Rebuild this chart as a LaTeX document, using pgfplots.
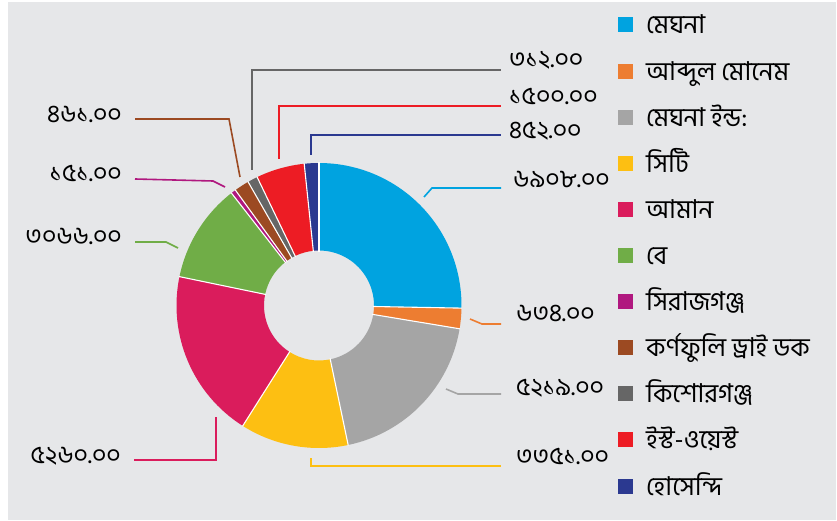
\documentclass[border=0pt]{standalone}
\usepackage{fontspec}
\usepackage{pgfplots}
\usepackage{pgfplotstable}
\pgfplotsset{compat=1.18}
\newfontfamily\bn[Script=Bengali]{Hind Siliguri}
\definecolor{bg}{HTML}{E6E7E9}
\definecolor{c0}{HTML}{00A3E0}
\definecolor{c1}{HTML}{ED7D31}
\definecolor{c2}{HTML}{A5A5A5}
\definecolor{c3}{HTML}{FDBF12}
\definecolor{c4}{HTML}{DA1C5C}
\definecolor{c5}{HTML}{70AD47}
\definecolor{c6}{HTML}{B0187F}
\definecolor{c7}{HTML}{9C4A22}
\definecolor{c8}{HTML}{666666}
\definecolor{c9}{HTML}{ED1C24}
\definecolor{c10}{HTML}{2B3990}
\pgfplotstableread{
id value
0 6908
1 634
2 5219
3 3351
4 5260
5 3066
6 151
7 461
8 312
9 1500
10 452
}\piedata
\newcommand\lab[1]{{\fontsize{25}{28}\selectfont\bn #1}}
\newcommand\leg[1]{{\fontsize{26}{29}\selectfont\bn #1}}
\begin{document}
\begin{tikzpicture}
\begin{axis}[x=1pt,y=1pt,xmin=0,xmax=837,ymin=0,ymax=520,hide axis,clip=false]
\path (axis cs:0,0) rectangle (axis cs:837,520);
\fill[bg] (axis cs:8,0) rectangle (axis cs:836,518);
% total (in thousands)
\pgfmathsetmacro\total{0}
\pgfplotsforeachungrouped \i in {0,...,10}{%
  \pgfplotstablegetelem{\i}{value}\of\piedata
  \pgfmathsetmacro\total{\total+\pgfplotsretval/1000}%
}
% wedges
\pgfmathsetmacro\cum{0}
\pgfplotsforeachungrouped \i in {0,...,10}{%
  \pgfplotstablegetelem{\i}{value}\of\piedata
  \pgfmathsetmacro\pv{\pgfplotsretval/1000}%
  \pgfmathsetmacro\angA{90-360*\cum/\total}%
  \pgfmathsetmacro\angB{90-360*(\cum+\pv)/\total}%
  \pgfmathsetmacro\xo{319+142.5*cos(\angA)}%
  \pgfmathsetmacro\yo{214.5+142.5*sin(\angA)}%
  \pgfmathsetmacro\xin{319+55*cos(\angB)}%
  \pgfmathsetmacro\yin{214.5+55*sin(\angB)}%
  \edef\temp{\noexpand\fill[c\i] (axis cs:\xo,\yo) arc[start angle=\angA, end angle=\angB, radius=142.5pt] -- (axis cs:\xin,\yin) arc[start angle=\angB, end angle=\angA, radius=55pt] -- cycle;}%
  \temp
  \pgfmathsetmacro\cum{\cum+\pv}%
}
% separators
\pgfmathsetmacro\cum{0}
\pgfplotsforeachungrouped \i in {0,...,10}{%
  \pgfplotstablegetelem{\i}{value}\of\piedata
  \pgfmathsetmacro\pv{\pgfplotsretval/1000}%
  \pgfmathsetmacro\angA{90-360*\cum/\total}%
  \pgfmathsetmacro\xo{319+143*cos(\angA)}%
  \pgfmathsetmacro\yo{214.5+143*sin(\angA)}%
  \pgfmathsetmacro\xin{319+54*cos(\angA)}%
  \pgfmathsetmacro\yin{214.5+54*sin(\angA)}%
  \edef\temp{\noexpand\draw[white, line width=1.1pt] (axis cs:\xin,\yin) -- (axis cs:\xo,\yo);}%
  \temp
  \pgfmathsetmacro\cum{\cum+\pv}%
}
% leader lines
\draw[c8, line width=1.6pt] (axis cs:252,350) -- (axis cs:252,450) -- (axis cs:501,450);
\draw[c9, line width=1.6pt] (axis cs:279,361) -- (axis cs:279,414) -- (axis cs:501,414);
\draw[c10, line width=1.6pt] (axis cs:311,365) -- (axis cs:311,385) -- (axis cs:501,385);
\draw[c0, line width=1.6pt] (axis cs:424,323) -- (axis cs:432,332) -- (axis cs:501,332);
\draw[c1, line width=1.6pt] (axis cs:470,201) -- (axis cs:482,196) -- (axis cs:501,196);
\draw[c2, line width=1.6pt] (axis cs:446,131) -- (axis cs:458,126) -- (axis cs:501,126);
\draw[c3, line width=1.6pt] (axis cs:311,62) -- (axis cs:311,54) -- (axis cs:501,54);
\draw[c4, line width=1.6pt] (axis cs:216,103) -- (axis cs:216,60) -- (axis cs:134,60);
\draw[c5, line width=1.6pt] (axis cs:178,272) -- (axis cs:166,278) -- (axis cs:135,278);
\draw[c6, line width=1.6pt] (axis cs:225,333) -- (axis cs:213,339) -- (axis cs:135,341);
\draw[c7, line width=1.6pt] (axis cs:240,343) -- (axis cs:229,401) -- (axis cs:135,401);
% value labels
\node[anchor=base west, inner sep=0] at (axis cs:509,452) {\lab{৩১২.০০}};
\node[anchor=base west, inner sep=0] at (axis cs:509,415) {\lab{১৫০০.০০}};
\node[anchor=base west, inner sep=0] at (axis cs:509,381) {\lab{৪৫২.০০}};
\node[anchor=base west, inner sep=0] at (axis cs:513,332) {\lab{৬৯০৮.০০}};
\node[anchor=base west, inner sep=0] at (axis cs:516,199) {\lab{৬৩৪.০০}};
\node[anchor=base west, inner sep=0] at (axis cs:516,125) {\lab{৫২১৯.০০}};
\node[anchor=base west, inner sep=0] at (axis cs:516,56) {\lab{৩৩৫১.০০}};
\node[anchor=base east, inner sep=0] at (axis cs:122,397) {\lab{৪৬১.০০}};
\node[anchor=base east, inner sep=0] at (axis cs:122,338) {\lab{১৫১.০০}};
\node[anchor=base east, inner sep=0] at (axis cs:122,276) {\lab{৩০৬৬.০০}};
\node[anchor=base east, inner sep=0] at (axis cs:121,57) {\lab{৫২৬০.০০}};
% legend
\pgfplotsforeachungrouped \i/\nm in {0/মেঘনা,1/আব্দুল মোনেম,2/মেঘনা ইন্ড:,3/সিটি,4/আমান,5/বে,6/সিরাজগঞ্জ,7/কর্ণফুলি ড্রাই ডক,8/কিশোরগঞ্জ,9/ইস্ট-ওয়েস্ট,10/হোসেন্দি}{%
  \pgfmathsetmacro\ly{495-46.1*\i}%
  \pgfmathsetmacro\lya{\ly-7.5}%
  \pgfmathsetmacro\lyb{\ly+7.5}%
  \pgfmathsetmacro\lyt{\ly-9}%
  \edef\temp{\noexpand\fill[c\i] (axis cs:618,\lya) rectangle (axis cs:633,\lyb); \noexpand\node[anchor=base west, inner sep=0] at (axis cs:646,\lyt) {\noexpand\leg{\unexpanded\expandafter{\nm}}};}%
  \temp
}
\end{axis}
\end{tikzpicture}
\end{document}
